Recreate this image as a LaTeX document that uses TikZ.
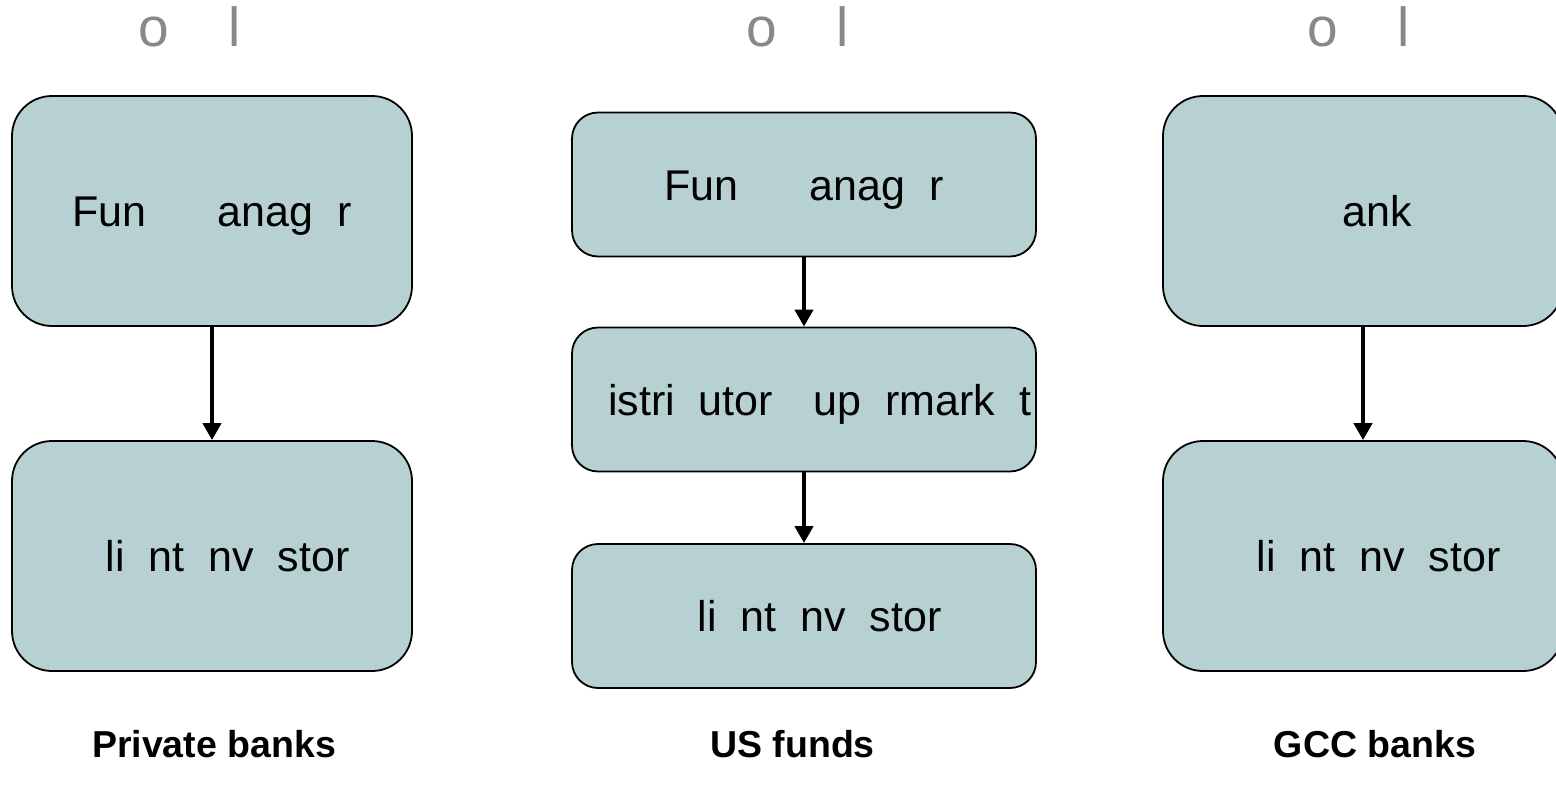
\documentclass[tikz,border=0pt]{standalone}
\usepackage{fontspec}
\setmainfont{Liberation Sans}
\usetikzlibrary{arrows.meta}
\definecolor{boxfill}{RGB}{183,209,210}
\definecolor{headgray}{RGB}{136,136,136}

\begin{document}
\begin{tikzpicture}[x=1pt,y=-1pt,
  stage/.style={draw=black, line width=1.8pt, fill=boxfill, inner sep=0pt,
    font=\fontsize{43}{50}\selectfont, text height=31pt, text depth=0pt},
  tallbox/.style={stage, rounded corners=40pt, minimum width=400pt, minimum height=230pt},
  shortbox/.style={stage, rounded corners=26pt, minimum width=464pt, minimum height=144pt},
  flow/.style={line width=4.5pt, -{Triangle[width=18pt,length=17pt]}},
  header/.style={text=headgray, font=\fontsize{55}{60}\selectfont, inner sep=0pt, anchor=base west},
  caption/.style={font=\bfseries\fontsize{37.5}{42}\selectfont, inner sep=0pt, anchor=base}]

\useasboundingbox (0,0) rectangle (1556,787);

% column headings
\node[header] (h1) at (138,46) {o\hspace{59.7pt}l};
\node[header] (h2) at (746,46) {o\hspace{59.7pt}l};
\node[header] (h3) at (1307,46) {o\hspace{59.7pt}l};

% private banks
\node[tallbox] (pb1) at (212,211) {Fun\hspace{1.667em}anag\hspace{0.556em}r};
\node[tallbox] (pb2) at (212,556) {\hspace{0.722em}li\hspace{0.556em}nt\hspace{0.556em}nv\hspace{0.556em}stor};
\draw[flow] (pb1.south) -- (pb2.north);

% US funds
\node[shortbox] (us1) at (804,184.5) {Fun\hspace{1.667em}anag\hspace{0.556em}r};
\node[shortbox] (us2) at (804,399.5) {\hspace{0.722em}istri\hspace{0.556em}utor\hspace{0.945em}up\hspace{0.556em}rmark\hspace{0.556em}t};
\node[shortbox] (us3) at (804,616) {\hspace{0.722em}li\hspace{0.556em}nt\hspace{0.556em}nv\hspace{0.556em}stor};
\draw[flow] (us1.south) -- (us2.north);
\draw[flow] (us2.south) -- (us3.north);

% GCC banks
\node[tallbox] (gc1) at (1363,211) {\hspace{0.667em}ank};
\node[tallbox] (gc2) at (1363,556) {\hspace{0.722em}li\hspace{0.556em}nt\hspace{0.556em}nv\hspace{0.556em}stor};
\draw[flow] (gc1.south) -- (gc2.north);

% captions
\node[caption] (c1) at (214,757) {Private banks};
\node[caption] (c2) at (792.5,757) {US funds};
\node[caption] (c3) at (1375,757) {GCC banks};
\end{tikzpicture}
\end{document}
